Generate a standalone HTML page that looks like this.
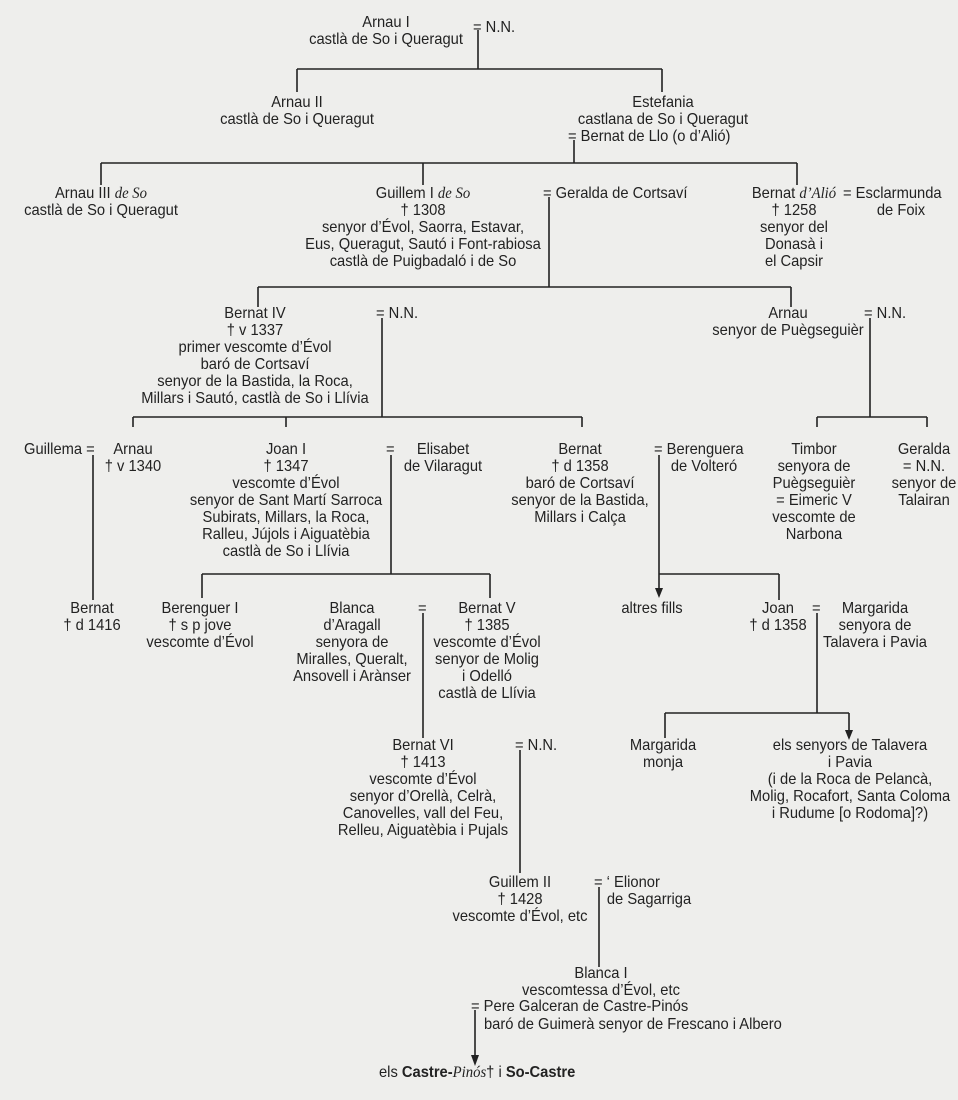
<!DOCTYPE html>
<html><head><meta charset="utf-8">
<style>
html,body{margin:0;padding:0}
body{width:958px;height:1100px;background:#eeeeec;position:relative;overflow:hidden;font-family:"Liberation Sans Narrow","Liberation Sans",sans-serif;font-size:16px;color:#222;line-height:17px}
.c{position:absolute;transform:translateX(-50%) scaleX(0.92);text-align:center;white-space:nowrap}
.l{position:absolute;white-space:nowrap;transform:scaleX(0.92);transform-origin:0 0}
svg{position:absolute;left:0;top:0}
i{font-family:"Liberation Serif",serif;font-size:16px}
</style></head><body>
<svg width="958" height="1100" stroke="#222" stroke-width="1.6" fill="none">
<path d="M478 30V69M297 69H662M297 69V92M662 69V92"/>
<path d="M574 140V163M101 163H797M101 163V185M423 163V185M797 163V185"/>
<path d="M549 197V287M258 287H791M258 287V307M791 287V307"/>
<path d="M382 318V417M133 417H582M133 417V427M286 417V427M582 417V427"/>
<path d="M870 318V417M817 417H927M817 417V427M927 417V427"/>
<path d="M93 455V600"/>
<path d="M391 455V574M202 574H490M202 574V598M490 574V598"/>
<path d="M659 455V592M659 574H779M779 574V600"/>
<path d="M423 613V738"/>
<path d="M817 613V713M665 713H849M665 713V738M849 713V733"/>
<path d="M520 750V873"/>
<path d="M599 887V967"/>
<path d="M475 1010V1058"/>
</svg>
<svg width="958" height="1100" fill="#222">
<path d="M655 588L663 588L659 598Z"/>
<path d="M845 730L853 730L849 740Z"/>
<path d="M471 1055L479 1055L475 1066Z"/>
</svg>

<div class="c" style="left:386px;top:14px">Arnau I<br>castlà de So i Queragut</div>
<div class="l" style="left:473px;top:19px">= N.N.</div>

<div class="c" style="left:297px;top:94px">Arnau II<br>castlà de So i Queragut</div>
<div class="c" style="left:663px;top:94px">Estefania<br>castlana de So i Queragut</div>
<div class="l" style="left:568px;top:128px">= Bernat de Llo (o d’Alió)</div>

<div class="c" style="left:101px;top:185px">Arnau III <i>de So</i><br>castlà de So i Queragut</div>
<div class="c" style="left:423px;top:185px">Guillem I <i>de So</i><br>† 1308<br>senyor d’Évol, Saorra, Estavar,<br>Eus, Queragut, Sautó i Font-rabiosa<br>castlà de Puigbadaló i de So</div>
<div class="l" style="left:543px;top:185px">= Geralda de Cortsaví</div>
<div class="c" style="left:794px;top:185px">Bernat <i>d’Alió</i><br>† 1258<br>senyor del<br>Donasà i<br>el Capsir</div>
<div class="l" style="left:843px;top:185px">= Esclarmunda</div>
<div class="c" style="left:901px;top:202px">de Foix</div>

<div class="c" style="left:255px;top:305px">Bernat IV<br>† v 1337<br>primer vescomte d’Évol<br>baró de Cortsaví<br>senyor de la Bastida, la Roca,<br>Millars i Sautó, castlà de So i Llívia</div>
<div class="l" style="left:376px;top:305px">= N.N.</div>
<div class="c" style="left:788px;top:305px">Arnau<br>senyor de Puègseguièr</div>
<div class="l" style="left:864px;top:305px">= N.N.</div>

<div class="l" style="left:24px;top:441px">Guillema =</div>
<div class="c" style="left:133px;top:441px">Arnau<br>† v 1340</div>
<div class="c" style="left:286px;top:441px">Joan I<br>† 1347<br>vescomte d’Évol<br>senyor de Sant Martí Sarroca<br>Subirats, Millars, la Roca,<br>Ralleu, Júјols i Aiguatèbia<br>castlà de So i Llívia</div>
<div class="l" style="left:386px;top:441px">=</div>
<div class="c" style="left:443px;top:441px">Elisabet<br>de Vilaragut</div>
<div class="c" style="left:580px;top:441px">Bernat<br>† d 1358<br>baró de Cortsaví<br>senyor de la Bastida,<br>Millars i Calça</div>
<div class="l" style="left:654px;top:441px">= Berenguera</div>
<div class="c" style="left:704px;top:458px">de Volteró</div>
<div class="c" style="left:814px;top:441px">Timbor<br>senyora de<br>Puègseguièr<br>= Eimeric V<br>vescomte de<br>Narbona</div>
<div class="c" style="left:924px;top:441px">Geralda<br>= N.N.<br>senyor de<br>Talairan</div>

<div class="c" style="left:92px;top:600px">Bernat<br>† d 1416</div>
<div class="c" style="left:200px;top:600px">Berenguer I<br>† s p jove<br>vescomte d’Évol</div>
<div class="c" style="left:352px;top:600px">Blanca<br>d’Aragall<br>senyora de<br>Miralles, Queralt,<br>Ansovell i Arànser</div>
<div class="l" style="left:418px;top:600px">=</div>
<div class="c" style="left:487px;top:600px">Bernat V<br>† 1385<br>vescomte d’Évol<br>senyor de Molig<br>i Odelló<br>castlà de Llívia</div>
<div class="c" style="left:652px;top:600px">altres fills</div>
<div class="c" style="left:778px;top:600px">Joan<br>† d 1358</div>
<div class="l" style="left:812px;top:600px">=</div>
<div class="c" style="left:875px;top:600px">Margarida<br>senyora de<br>Talavera i Pavia</div>

<div class="c" style="left:423px;top:737px">Bernat VI<br>† 1413<br>vescomte d’Évol<br>senyor d’Orellà, Celrà,<br>Canovelles, vall del Feu,<br>Relleu, Aiguatèbia i Pujals</div>
<div class="l" style="left:515px;top:737px">= N.N.</div>
<div class="c" style="left:663px;top:737px">Margarida<br>monja</div>
<div class="c" style="left:850px;top:737px">els senyors de Talavera<br>i Pavia<br>(i de la Roca de Pelancà,<br>Molig, Rocafort, Santa Coloma<br>i Rudume [o Rodoma]?)</div>

<div class="c" style="left:520px;top:874px">Guillem II<br>† 1428<br>vescomte d’Évol, etc</div>
<div class="l" style="left:594px;top:874px">= ‘ Elionor</div>
<div class="c" style="left:649px;top:891px">de Sagarriga</div>

<div class="c" style="left:601px;top:965px">Blanca I<br>vescomtessa d’Évol, etc</div>
<div class="l" style="left:471px;top:998px">= Pere Galceran de Castre-Pinós</div>
<div class="l" style="left:484px;top:1016px">baró de Guimerà senyor de Frescano i Albero</div>
<div class="l" style="left:379px;top:1064px">els <b>Castre-</b><i>Pinós</i>† i <b>So-Castre</b></div>
</body></html>
